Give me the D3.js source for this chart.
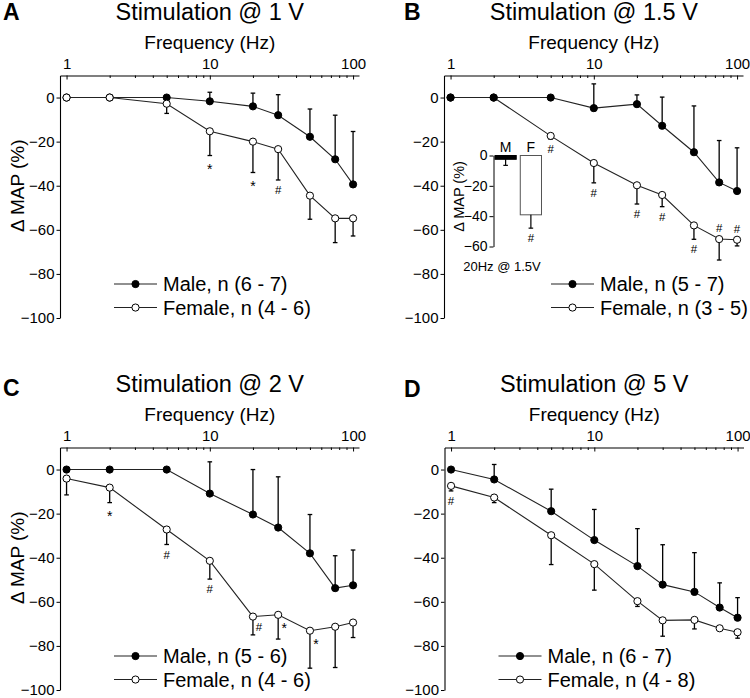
<!DOCTYPE html>
<html><head><meta charset="utf-8">
<script src="https://cdn.jsdelivr.net/npm/d3@7"></script>
<style>
body{margin:0;background:#fff;}
svg{display:block;font-family:"Liberation Sans", Arial, Helvetica, sans-serif;}
</style></head><body>
<svg id="chart" width="750" height="698"></svg>
<script>
// ---------- data ----------
const freqs = [1, 2, 5, 10, 20, 30, 50, 75, 100];
const xTickValues = [1, 10, 100];
const yTickValues = [0, -20, -40, -60, -80, -100];
const panelLetters = ['A', 'B', 'C', 'D'];
const panelTitles = ['Stimulation @ 1 V', 'Stimulation @ 1.5 V', 'Stimulation @ 2 V', 'Stimulation @ 5 V'];
const maleLegend = ['Male, n (6 - 7)', 'Male, n (5 - 7)', 'Male, n (5 - 6)', 'Male, n (6 - 7)'];
const femaleLegend = ['Female, n (4 - 6)', 'Female, n (3 - 5)', 'Female, n (4 - 6)', 'Female, n (4 - 8)'];

// Panel A: 1 V
const maleA      = [0, 0, 0, -1.7, -4, -8, -17.8, -28, -39.4];
const maleErrA   = [0, 0, 0, 4.1, 6, 9.3, 12.6, 20, 24];
const femaleA    = [0, 0, -2.8, -15.3, -20, -23.4, -44.5, -54.8, -54.8];
const femaleErrA = [0, 0, 4.4, 11, 14, 14, 10.7, 11, 8];
const marksA     = ['', '', '', '*', '*', '#', '', '', ''];
const markPosA   = ['', '', '', 'b', 'b', 'b', '', '', ''];

// Panel B: 1.5 V
const maleB      = [0, 0, 0, -4.8, -3, -12.8, -24.8, -38.5, -42.4];
const maleErrB   = [0, 0, 0, 11, 4.2, 13, 21, 19, 19.6];
const femaleB    = [0, 0, -17.4, -29.7, -39.8, -44.2, -58, -64.2, -64.5];
const femaleErrB = [0, 0, 1.5, 9, 8.5, 5.3, 6.3, 9.5, 2.8];
const marksB     = ['', '', '#', '#', '#', '#', '#', '#', '#'];
const markPosB   = ['', '', 'b', 'b', 'b', 'b', 'b', 'a', 'a'];

// Panel C: 2 V
const maleC      = [0, 0, 0, -10.9, -20.4, -26.3, -38, -53.8, -52.5];
const maleErrC   = [0, 0, 0, 14.4, 20.4, 23, 17.6, 14.7, 16];
const femaleC    = [-4.1, -8.2, -27.2, -41.4, -66.7, -65.9, -73.1, -71.3, -69.4];
const femaleErrC = [7.4, 6.8, 6.8, 8.3, 8.3, 11, 17, 18.5, 6.8];
const marksC     = ['', '*', '#', '#', '#', '*', '*', '', ''];
const markPosC   = ['', 'b', 'b', 'b', 'r', 'r', 'r', '', ''];

// Panel D: 5 V
const maleD      = [0, -4.5, -18.9, -32, -43.8, -52.2, -55.5, -62.6, -67.2];
const maleErrD   = [0, 6.8, 10, 13.9, 17, 18.1, 17.8, 11.2, 9.1];
const femaleD    = [-7.4, -12.7, -29.8, -42.9, -59.7, -68.4, -68.2, -72, -73.8];
const femaleErrD = [2.3, 2.3, 13.3, 11.8, 2.4, 7.2, 4.1, 0.8, 2.7];
const marksD     = ['#', '', '', '', '', '', '', '', ''];
const markPosD   = ['b', '', '', '', '', '', '', '', ''];

// Inset (panel B): 20 Hz @ 1.5 V
const insetCats  = ['M', 'F'];
const insetVals  = [-2.5, -39.1];
const insetErr   = [4, 8.8];
const insetMarks = ['', '#'];
const insetTicks = [0, -20, -40, -60];
const insetCaption = '20Hz @ 1.5V';
const yLabel = '\u0394 MAP (%)';
const xLabel = 'Frequency (Hz)';

// ---------- layout ----------
const svg = d3.select('#chart');
const panels = [
  {male: maleA, maleErr: maleErrA, female: femaleA, femaleErr: femaleErrA, marks: marksA, pos: markPosA,
   tx: 60, ty: 75.5, letterX: 3, letterY: 19.5, yTitle: true, legX: 54, top: 'female'},
  {male: maleB, maleErr: maleErrB, female: femaleB, femaleErr: femaleErrB, marks: marksB, pos: markPosB,
   tx: 444, ty: 75.5, letterX: 404, letterY: 19.5, yTitle: false, legX: 107, top: 'male'},
  {male: maleC, maleErr: maleErrC, female: femaleC, femaleErr: femaleErrC, marks: marksC, pos: markPosC,
   tx: 60, ty: 447.5, letterX: 3, letterY: 396, yTitle: true, legX: 54, top: 'male'},
  {male: maleD, maleErr: maleErrD, female: femaleD, femaleErr: femaleErrD, marks: marksD, pos: markPosD,
   tx: 444.5, ty: 447.5, letterX: 404, letterY: 396.5, yTitle: false, legX: 54, top: 'male'}
];

const W = 299, H = 242.5;
const x = d3.scaleLog().domain([0.9, 110]).range([0, W]);
const y = d3.scaleLinear().domain([-100, 10]).range([H, 0]);
const minorTicks = [2,3,4,5,6,7,8,9,20,30,40,50,60,70,80,90];
const lineColor = '#222';
const R = 3.6, CAP = 2.3;

panels.forEach((p, i) => {
  svg.append('text').attr('x', p.letterX).attr('y', p.letterY)
    .attr('font-size', 23).attr('font-weight', 'bold').text(panelLetters[i]);

  const g = svg.append('g').attr('transform', `translate(${p.tx},${p.ty})`);

  g.append('text').attr('x', x(10)).attr('y', -56).attr('text-anchor', 'middle')
    .attr('font-size', 23.5).text(panelTitles[i]);
  g.append('text').attr('x', x(10)).attr('y', -26.5).attr('text-anchor', 'middle')
    .attr('font-size', 19).text(xLabel);

  const xa = g.append('g').call(d3.axisTop(x).tickValues(xTickValues).tickFormat(d3.format('d'))
      .tickSizeInner(-4).tickSizeOuter(0).tickPadding(7));
  xa.attr('font-family', null);
  xa.selectAll('text').attr('font-size', 15).attr('fill', '#000');
  const xm = g.append('g').call(d3.axisTop(x).tickValues(minorTicks).tickFormat('')
      .tickSizeInner(-2.5).tickSizeOuter(0));
  xm.select('.domain').remove();

  const ya = g.append('g').call(d3.axisLeft(y).tickValues(yTickValues).tickFormat(d3.format('d'))
      .tickSizeInner(3.5).tickSizeOuter(0).tickPadding(2));
  ya.attr('font-family', null);
  ya.selectAll('text').attr('font-size', 15).attr('fill', '#000');
  g.selectAll('.domain').attr('stroke', '#000').attr('stroke-width', 1.1);
  g.selectAll('.tick line').attr('stroke', '#000');

  if (p.yTitle) {
    svg.append('text').attr('transform', `translate(24,${p.ty + y(-40)}) rotate(-90)`)
      .attr('text-anchor', 'middle').attr('font-size', 19).text(yLabel);
  }

  const series = [
    {name: 'male', vals: p.male, errs: p.maleErr, fill: '#000', dir: 1},
    {name: 'female', vals: p.female, errs: p.femaleErr, fill: '#fff', dir: -1}
  ];
  const ordered = p.top === 'male' ? [series[1], series[0]] : [series[0], series[1]];
  const line = d3.line().x((d, j) => x(freqs[j])).y(d => y(d));

  ordered.forEach(s => {
    g.append('path').datum(s.vals).attr('d', line).attr('fill', 'none')
      .attr('stroke', lineColor).attr('stroke-width', 1.1);
  });
  ordered.forEach(s => {
    const eb = g.append('g').attr('stroke', '#000').attr('stroke-width', 1.3);
    s.vals.forEach((v, j) => {
      const e = s.errs[j];
      if (!e) return;
      const xe = x(freqs[j]);
      const ye = y(v + s.dir * e);
      eb.append('line').attr('x1', xe).attr('x2', xe).attr('y1', y(v)).attr('y2', ye);
      eb.append('line').attr('x1', xe - CAP).attr('x2', xe + CAP).attr('y1', ye).attr('y2', ye);
    });
  });
  ordered.forEach(s => {
    g.append('g').selectAll('circle').data(s.vals).join('circle')
      .attr('cx', (d, j) => x(freqs[j])).attr('cy', d => y(d)).attr('r', R)
      .attr('fill', s.fill).attr('stroke', '#000').attr('stroke-width', 1);
  });

  p.marks.forEach((m, j) => {
    if (!m) return;
    const v = p.female[j], e = p.femaleErr[j];
    let mx = x(freqs[j]), my;
    if (p.pos[j] === 'b') my = y(v - e) + 10;
    else if (p.pos[j] === 'a') my = y(v) - 11;
    else { mx += 6; my = y(v) + 10; }
    if (m === '*') my += 3.5;
    g.append('text').attr('x', mx).attr('y', my).attr('text-anchor', 'middle')
      .attr('dominant-baseline', 'central').attr('font-size', m === '*' ? 14 : 11.5)
      .attr('fill', '#000').text(m);
  });

  const leg = g.append('g').attr('transform', `translate(${p.legX},0)`);
  const rows = [
    {label: maleLegend[i], fill: '#000', yy: y(0) + 186.5},
    {label: femaleLegend[i], fill: '#fff', yy: y(0) + 210}
  ];
  rows.forEach(r => {
    leg.append('line').attr('x1', 0).attr('x2', 43).attr('y1', r.yy).attr('y2', r.yy)
      .attr('stroke', lineColor).attr('stroke-width', 1.1);
    leg.append('circle').attr('cx', 21.5).attr('cy', r.yy).attr('r', R)
      .attr('fill', r.fill).attr('stroke', '#000');
    leg.append('text').attr('x', 49).attr('y', r.yy).attr('dominant-baseline', 'central')
      .attr('font-size', 20).text(r.label);
  });
});

// ---------- inset ----------
const ix = d3.scaleBand().domain(insetCats).range([494.5, 542]).paddingInner(0.16).paddingOuter(0.02);
const iy = d3.scaleLinear().domain([-60, 0]).range([246.5, 155.5]);
const ig = svg.append('g');
const iya = ig.append('g').attr('transform', 'translate(493.5,0)')
  .call(d3.axisLeft(iy).tickValues(insetTicks).tickFormat(d3.format('d')).tickSizeInner(4).tickSizeOuter(0).tickPadding(2));
iya.attr('font-family', null);
iya.selectAll('text').attr('font-size', 14).attr('fill', '#000');
iya.selectAll('.domain, .tick line').attr('stroke', '#000');

ig.selectAll('rect.bar').data(insetVals).join('rect').attr('class', 'bar')
  .attr('x', (d, j) => ix(insetCats[j])).attr('width', ix.bandwidth())
  .attr('y', iy(0)).attr('height', d => iy(d) - iy(0))
  .attr('fill', (d, j) => j === 0 ? '#000' : '#fff')
  .attr('stroke', (d, j) => j === 0 ? '#000' : '#555').attr('stroke-width', 1);
insetVals.forEach((v, j) => {
  const cx = ix(insetCats[j]) + ix.bandwidth() / 2;
  const ye = iy(v - insetErr[j]);
  ig.append('line').attr('x1', cx).attr('x2', cx).attr('y1', iy(v)).attr('y2', ye).attr('stroke', '#000').attr('stroke-width', 1.2);
  ig.append('line').attr('x1', cx - CAP).attr('x2', cx + CAP).attr('y1', ye).attr('y2', ye).attr('stroke', '#000').attr('stroke-width', 1.2);
  ig.append('text').attr('x', cx).attr('y', iy(0) - 9).attr('text-anchor', 'middle')
    .attr('dominant-baseline', 'central').attr('font-size', 14).text(insetCats[j]);
  if (insetMarks[j]) {
    ig.append('text').attr('x', cx).attr('y', ye + 9.5).attr('text-anchor', 'middle')
      .attr('dominant-baseline', 'central').attr('font-size', 11.5).text(insetMarks[j]);
  }
});
svg.append('text').attr('transform', `translate(459,${iy(-27)}) rotate(-90)`)
  .attr('text-anchor', 'middle').attr('dominant-baseline', 'central').attr('font-size', 14.5).text(yLabel);
svg.append('text').attr('x', 502).attr('y', 266.7).attr('text-anchor', 'middle')
  .attr('dominant-baseline', 'central').attr('font-size', 13).text(insetCaption);
</script>
</body></html>
